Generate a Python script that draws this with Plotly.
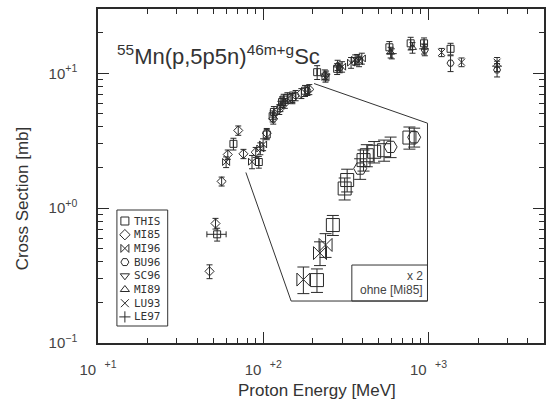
import math
import plotly.graph_objects as go

# ---------------- data: proton energy [MeV], cross section [mb], uncertainty [mb]
this_e = [52.6, 66, 94, 105, 114, 116, 130, 133, 140, 150, 179, 212, 280, 580, 780, 940, 1360]
this_s = [0.64, 3.0, 2.2, 3.52, 4.81, 5.17, 6.13, 6.39, 6.58, 6.67, 7.43, 10.2, 10.8, 15.6, 16.7, 16.7, 15.2]
this_d = [0.07, 0.3, 0.22, 0.3, 0.45, 0.5, 0.55, 0.6, 0.6, 0.6, 0.7, 1.2, 1.0, 1.6, 1.8, 1.6, 1.5]
this_dx = [7, 0, 0, 0, 0, 0, 0, 0, 0, 0, 0, 0, 0, 0, 0, 0, 0]

mi85_e = [47.3, 51.4, 56, 61, 70.6, 75.9, 90, 105, 115, 125, 135, 150, 170, 190]
mi85_s = [0.34, 0.77, 1.58, 2.5, 3.77, 2.53, 2.6, 3.6, 4.6, 5.4, 6.0, 6.5, 7.1, 7.6]
mi85_d = [0.04, 0.07, 0.12, 0.2, 0.3, 0.2, 0.22, 0.3, 0.4, 0.45, 0.5, 0.55, 0.6, 0.65]

mi96_e = [59.6, 85.5, 96, 99.8, 238, 300, 340, 360, 380, 395]
mi96_s = [2.2, 2.21, 2.77, 2.97, 9.4, 11.2, 12.0, 12.6, 12.3, 12.9]
mi96_d = [0.2, 0.25, 0.28, 0.3, 0.8, 1.0, 1.1, 1.1, 1.1, 1.2]

bu96_e = [127, 157, 185, 290, 950, 1360, 2600]
bu96_s = [5.7, 6.86, 7.45, 11.0, 14.9, 11.9, 10.6]
bu96_d = [0.5, 0.6, 0.6, 0.9, 1.4, 1.6, 1.2]

sc96_e = [240, 370]
sc96_s = [9.6, 12.7]
sc96_d = [0.8, 1.1]

mi89_e = [236, 282, 590, 800]
mi89_s = [9.8, 11.5, 14.3, 15.5]
mi89_d = [0.8, 1.0, 1.3, 1.4]

lu93_e = [1200, 1585, 2600]
lu93_s = [14.3, 12.1, 12.1]
lu93_d = [1.0, 0.9, 1.0]

le97_e = [600, 940, 2600]
le97_s = [14.0, 15.2, 11.3]
le97_d = [1.2, 1.3, 1.0]

series = [
    ("THIS", "square-open", this_e, this_s, this_d, this_dx),
    ("MI85", "diamond-open", mi85_e, mi85_s, mi85_d, None),
    ("MI96", "bowtie-open", mi96_e, mi96_s, mi96_d, None),
    ("BU96", "hexagon2-open", bu96_e, bu96_s, bu96_d, None),
    ("SC96", "triangle-down-open", sc96_e, sc96_s, sc96_d, None),
    ("MI89", "triangle-up-open", mi89_e, mi89_s, mi89_d, None),
    ("LU93", "x-thin-open", lu93_e, lu93_s, lu93_d, None),
    ("LE97", "cross-thin-open", le97_e, le97_s, le97_d, None),
]

# ---------------- geometry
W, H = 546, 399
ML, MR, MT, MB = 98, 0, 9, 56
PW, PH = W - ML - MR, H - MT - MB
X_RANGE = [1.0, math.log10(5000)]
Y_RANGE = [-1.0, math.log10(30)]

# magnified window (log ranges) and where it sits on the page
MAG = 2.0
IX = [math.log10(78.5), math.log10(203)]
IY = [math.log10(1.84), math.log10(8.4)]
INSET_X0, INSET_Y0 = 0.433, 0.1257
INSET_W = MAG * (IX[1] - IX[0]) / (X_RANGE[1] - X_RANGE[0])
INSET_H = MAG * (IY[1] - IY[0]) / (Y_RANGE[1] - Y_RANGE[0])


def px_x(p):
    return (p - ML) / PW


def px_y(p):
    return (H - MB - p) / PH


def fx(v):
    return (math.log10(v) - X_RANGE[0]) / (X_RANGE[1] - X_RANGE[0])


def fy(v):
    return (math.log10(v) - Y_RANGE[0]) / (Y_RANGE[1] - Y_RANGE[0])


INK = "#2a2a2a"
fig = go.Figure()

for name, sym, e, s, d, dx in series:
    # full-scale view
    tr = dict(
        x=e, y=s, mode="markers", name=name, showlegend=False,
        marker=dict(symbol=sym, size=7, color=INK, line=dict(width=1, color=INK)),
        error_y=dict(type="data", array=d, thickness=1, width=3, color=INK),
        xaxis="x", yaxis="y",
    )
    if dx is not None:
        tr["error_x"] = dict(type="data", array=dx, thickness=1, width=3, color=INK)
    fig.add_trace(go.Scatter(**tr))

for name, sym, e, s, d, dx in series:
    if name == "MI85":
        continue  # magnified view leaves out [Mi85]
    fig.add_trace(go.Scatter(
        x=e, y=s, mode="markers", name=name, showlegend=False,
        marker=dict(symbol=sym, size=13, color=INK, line=dict(width=1, color=INK)),
        error_y=dict(type="data", array=d, thickness=1, width=6, color=INK),
        xaxis="x2", yaxis="y2", cliponaxis=True,
    ))

# legend keys drawn on an overlay in page coordinates
LEG_LEFT, LEG_TOP, LEG_RIGHT, LEG_BOT = 117, 210, 168, 326
LEG_STEP = 13.7
for i, (name, sym, *_rest) in enumerate(series):
    yc = 221 + i * LEG_STEP
    fig.add_trace(go.Scatter(
        x=[px_x(125)], y=[px_y(yc)], mode="markers", showlegend=False,
        marker=dict(symbol=sym, size=8, color=INK, line=dict(width=1, color=INK)),
        xaxis="x3", yaxis="y3", hoverinfo="skip",
    ))
    fig.add_annotation(
        x=px_x(132), y=px_y(yc), xref="paper", yref="paper", text=name,
        showarrow=False, xanchor="left", yanchor="middle",
        font=dict(family="DejaVu Sans Mono", size=11, color="#333"),
    )

fig.add_shape(type="rect", xref="paper", yref="paper",
              x0=px_x(LEG_LEFT), x1=px_x(LEG_RIGHT), y0=px_y(LEG_BOT), y1=px_y(LEG_TOP),
              line=dict(color="#333", width=1))

# outline linking the window on the curve to its enlarged copy
ax_, ay_ = fx(10 ** IX[1]), fy(10 ** IY[1])
ex_, ey_ = fx(10 ** IX[0]), fy(10 ** IY[0])
bx, by = INSET_X0 + INSET_W, INSET_Y0 + INSET_H
path = (f"M {ax_},{ay_} L {bx},{by} L {bx},{INSET_Y0} "
        f"L {INSET_X0},{INSET_Y0} L {ex_},{ey_}")
fig.add_shape(type="path", xref="paper", yref="paper", path=path,
              line=dict(color="#333", width=1))

# caption box of the enlarged view
cap_w, cap_h = 76 / PW, 36 / PH
fig.add_shape(type="rect", xref="paper", yref="paper",
              x0=bx - cap_w, x1=bx, y0=INSET_Y0, y1=INSET_Y0 + cap_h,
              line=dict(color="#333", width=1))
fig.add_annotation(x=bx - 2 / PW, y=INSET_Y0 + cap_h * 0.7, xref="paper", yref="paper",
                   text="x 2", showarrow=False, xanchor="right", yanchor="middle",
                   font=dict(family="Liberation Sans", size=12, color="#444"))
fig.add_annotation(x=bx - 2 / PW, y=INSET_Y0 + cap_h * 0.3, xref="paper", yref="paper",
                   text="ohne [Mi85]", showarrow=False, xanchor="right", yanchor="middle",
                   font=dict(family="Liberation Sans", size=12, color="#444"))

# reaction label
fig.add_annotation(x=px_x(115), y=px_y(55), xref="paper", yref="paper",
                   text="<sup>55</sup>Mn(p,5p5n)<sup>46m+g</sup>Sc", showarrow=False,
                   xanchor="left", yanchor="middle",
                   font=dict(family="Liberation Sans", size=22, color="#333"))

# axis titles
fig.add_annotation(x=px_x(22), y=px_y(198), xref="paper", yref="paper",
                   text="Cross Section [mb]", textangle=-90, showarrow=False,
                   xanchor="center", yanchor="middle",
                   font=dict(family="Liberation Sans", size=17, color="#333"))
fig.add_annotation(x=px_x(318), y=px_y(390), xref="paper", yref="paper",
                   text="Proton Energy [MeV]", showarrow=False,
                   xanchor="center", yanchor="middle",
                   font=dict(family="Liberation Sans", size=17, color="#333"))


def minor_vals(lo, hi):
    out = []
    for dec in range(lo, hi + 1):
        for m in range(2, 10):
            out.append(m * 10 ** dec)
    return out


NB = "\u00a0"
axis_common = dict(
    type="log", showgrid=False, zeroline=False, showline=True, linecolor=INK,
    linewidth=1.5, mirror="allticks", ticks="inside", ticklen=11, tickwidth=1,
    tickcolor=INK, tickfont=dict(family="Liberation Sans", size=15, color="#444"),
)
fig.update_layout(
    width=W, height=H, margin=dict(l=ML, r=MR, t=MT, b=MB),
    paper_bgcolor="white", plot_bgcolor="white",
    xaxis=dict(**axis_common, range=X_RANGE, tickvals=[10, 100, 1000],
               ticktext=[f"10{NB}{NB}<sup>+1</sup>", f"10{NB}{NB}<sup>+2</sup>", f"10{NB}{NB}<sup>+3</sup>"],
               ticklabelstandoff=12,
               minor=dict(tickvals=minor_vals(1, 3), ticks="inside", ticklen=5,
                          tickcolor=INK, tickwidth=1)),
    yaxis=dict(**axis_common, range=Y_RANGE, tickvals=[0.1, 1, 10],
               ticktext=["10<sup>\u22121</sup>", "10<sup>+0</sup>", "10<sup>+1</sup>"],
               ticklabelstandoff=16,
               minor=dict(tickvals=minor_vals(-1, 1), ticks="inside", ticklen=5,
                          tickcolor=INK, tickwidth=1)),
    xaxis2=dict(type="log", range=IX, domain=[INSET_X0, INSET_X0 + INSET_W], anchor="y2",
                visible=False),
    yaxis2=dict(type="log", range=IY, domain=[INSET_Y0, INSET_Y0 + INSET_H], anchor="x2",
                visible=False),
    xaxis3=dict(range=[0, 1], domain=[0, 1], anchor="y3", visible=False, overlaying="x"),
    yaxis3=dict(range=[0, 1], domain=[0, 1], anchor="x3", visible=False, overlaying="y"),
)

fig.write_html("out.html")
